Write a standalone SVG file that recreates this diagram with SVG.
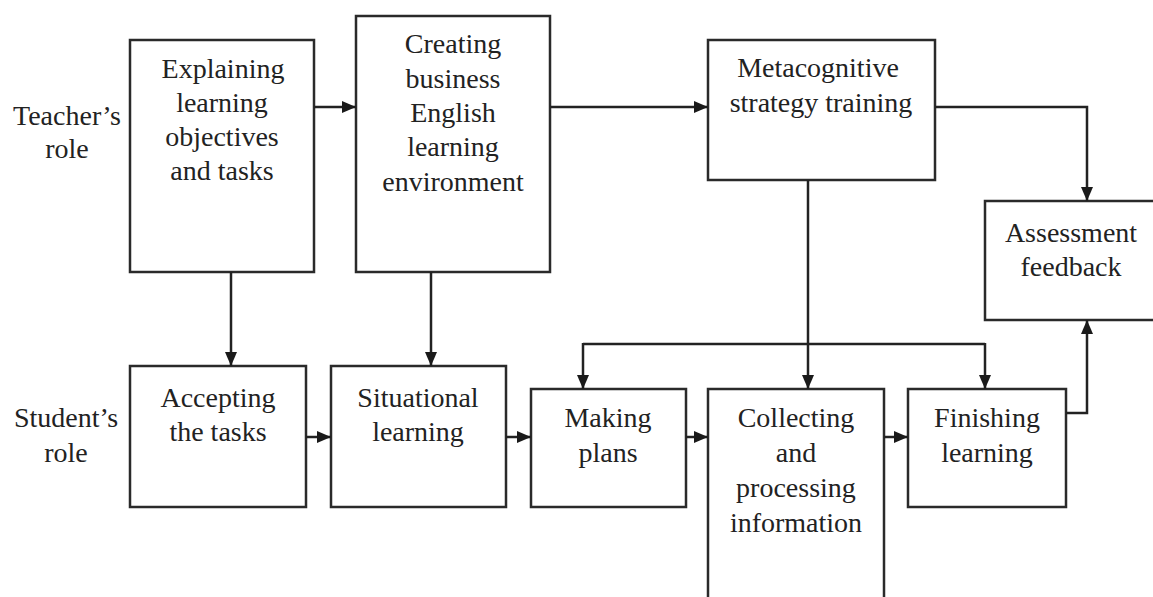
<svg xmlns="http://www.w3.org/2000/svg" width="1153" height="597" viewBox="0 0 1153 597">
<defs>
<marker id="ah" viewBox="0 0 14 12" refX="14" refY="6" markerWidth="14" markerHeight="12" markerUnits="userSpaceOnUse" orient="auto">
<path d="M0,0 L14,6 L0,12 Z" fill="#1a1a1a"/>
</marker>
<style>
.box{fill:#fff;stroke:#2a2a2a;stroke-width:2.5}
.t{font-family:"Liberation Serif","Times New Roman",serif;font-size:28px;fill:#222;text-anchor:middle}
.c{fill:none;stroke:#222;stroke-width:2.5;marker-end:url(#ah)}
.l{fill:none;stroke:#222;stroke-width:2.5}
</style>
</defs>
<rect width="1153" height="597" fill="#fff"/>
<g id="lbl-teacher"><text class="t" x="67" y="125">Teacher’s</text><text class="t" x="67" y="158">role</text></g>
<g id="lbl-student"><text class="t" x="66" y="427">Student’s</text><text class="t" x="66" y="462">role</text></g>
<g id="n-explain"><rect class="box" x="130" y="40" width="184" height="232"/>
<text class="t" x="223" y="78">Explaining</text><text class="t" x="222" y="112">learning</text><text class="t" x="222" y="146">objectives</text><text class="t" x="222" y="180">and tasks</text></g>
<g id="n-create"><rect class="box" x="356" y="16" width="194" height="256"/>
<text class="t" x="453" y="53">Creating</text><text class="t" x="453" y="88">business</text><text class="t" x="453" y="122">English</text><text class="t" x="453" y="156">learning</text><text class="t" x="453" y="191">environment</text></g>
<g id="n-meta"><rect class="box" x="708" y="40" width="227" height="140"/>
<text class="t" x="818" y="77">Metacognitive</text><text class="t" x="821" y="112">strategy training</text></g>
<g id="n-assess"><rect class="box" x="985" y="201" width="175" height="119"/>
<text class="t" x="1071" y="242">Assessment</text><text class="t" x="1071" y="276">feedback</text></g>
<g id="n-accept"><rect class="box" x="130" y="366" width="176" height="141"/>
<text class="t" x="218" y="407">Accepting</text><text class="t" x="218" y="441">the tasks</text></g>
<g id="n-situ"><rect class="box" x="331" y="366" width="175" height="141"/>
<text class="t" x="418" y="407">Situational</text><text class="t" x="418" y="441">learning</text></g>
<g id="n-plans"><rect class="box" x="531" y="389" width="155" height="118"/>
<text class="t" x="608" y="427">Making</text><text class="t" x="608" y="462">plans</text></g>
<g id="n-collect"><rect class="box" x="708" y="389" width="176" height="220"/>
<text class="t" x="796" y="427">Collecting</text><text class="t" x="796" y="462">and</text><text class="t" x="796" y="497">processing</text><text class="t" x="796" y="532">information</text></g>
<g id="n-finish"><rect class="box" x="908" y="389" width="158" height="118"/>
<text class="t" x="987" y="427">Finishing</text><text class="t" x="987" y="462">learning</text></g>
<g id="connectors">
<path class="c" d="M314,107 H356"/>
<path class="c" d="M550,107 H708"/>
<path class="c" d="M935,107 H1087 V201"/>
<path class="c" d="M231,272 V366"/>
<path class="c" d="M431,272 V366"/>
<path class="c" d="M808,180 V389"/>
<path class="l" d="M583,344 H985"/>
<path class="c" d="M583,343 V389"/>
<path class="c" d="M985,343 V389"/>
<path class="c" d="M1066,413 H1087 V320"/>
<path class="c" d="M306,437 H331"/>
<path class="c" d="M506,437 H531"/>
<path class="c" d="M686,437 H708"/>
<path class="c" d="M884,437 H908"/>
</g>
</svg>
